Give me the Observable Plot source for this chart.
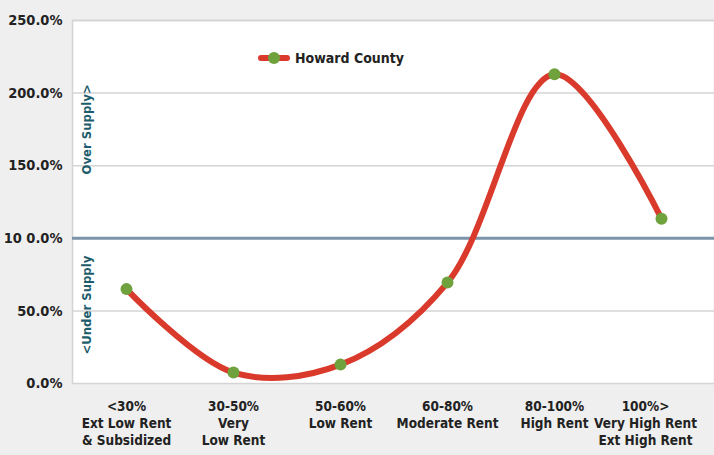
<!DOCTYPE html>
<html><head><meta charset="utf-8">
<script src="https://cdn.jsdelivr.net/npm/d3@7"></script>
<script src="https://cdn.jsdelivr.net/npm/@observablehq/plot@0.6"></script>
<style>
body{margin:0;background:#efefef;}
#wrap{position:relative;width:714px;height:455px;background:#efefef;}
.legend{position:absolute;left:258px;top:50px;display:flex;align-items:center;font:bold 14px "DejaVu Sans Condensed",sans-serif;color:#222;}
.legend svg{margin-right:5px;}
</style>
</head><body>
<div id="wrap"></div>
<script>
const categories = ["<30%\nExt Low Rent\n& Subsidized", "30-50%\nVery\nLow Rent", "50-60%\nLow Rent", "60-80%\nModerate Rent", "80-100%\nHigh Rent", "100%>\nVery High Rent\nExt High Rent"];
const values = [65, 7.5, 13, 69.5, 213, 113.5];
const yTicks = [0, 50, 100, 150, 200, 250];
const yTickLabels = ["0.0%", "50.0%", "10 0.0%", "150.0%", "200.0%", "250.0%"];
const seriesName = "Howard County";
const baseline = 100;
const bandNotes = [{label: "Over Supply>", y: 175}, {label: "<Under Supply", y: 54}];

const data = categories.map((c, i) => ({cat: c, v: values[i]}));
const font = '"DejaVu Sans Condensed",sans-serif';
const lineColor = "#d93a2b", dotColor = "#6fa23d";

const chart = Plot.plot({
  width: 714, height: 455,
  marginLeft: 72, marginRight: 0, marginTop: 20, marginBottom: 72,
  style: {background: "transparent", fontFamily: font, fontSize: "14px", fontWeight: "bold", color: "#222"},
  x: {type: "point", domain: categories, padding: 0.5, label: null},
  y: {domain: [0, 250], label: null},
  marks: [
    Plot.frame({fill: "white", stroke: "#d4d4d4", strokeWidth: 1.5}),
    Plot.ruleY(yTicks.filter(t => t !== baseline && t !== 0), {stroke: "#d4d4d4", strokeWidth: 1.5}),
    Plot.ruleY([baseline], {stroke: "#7b93a9", strokeWidth: 3}),
    Plot.axisY({ticks: yTicks, tickSize: 0, tickPadding: 10, tickFormat: d => yTickLabels[yTicks.indexOf(d)], fontSize: 14.5, fill: "#222"}),
    Plot.axisX(categories.slice(0, -1), {tickSize: 0, tickPadding: 16, lineHeight: 1.25, fontSize: 13.5, fill: "#222"}),
    Plot.axisX(categories.slice(-1), {tickSize: 0, tickPadding: 16, lineHeight: 1.25, fontSize: 13.5, fill: "#222", dx: -16}),
    Plot.text(bandNotes, {y: "y", text: "label", frameAnchor: "left", dx: 14, rotate: -90, textAnchor: "middle", fill: "#1d5c6c", fontSize: 13, fontWeight: "bold"}),
    Plot.line(data, {x: "cat", y: "v", stroke: lineColor, strokeWidth: 6, curve: "catmull-rom"}),
    Plot.dot(data, {x: "cat", y: "v", r: 6, fill: dotColor, stroke: "none"})
  ]
});
const wrap = document.getElementById("wrap");
wrap.appendChild(chart);
const leg = document.createElement("div");
leg.className = "legend";
leg.innerHTML = `<svg width="32" height="12"><line x1="3" x2="29" y1="6" y2="6" stroke="${lineColor}" stroke-width="6" stroke-linecap="round"/><circle cx="16" cy="6" r="6" fill="${dotColor}"/></svg><span></span>`;
leg.querySelector("span").textContent = seriesName;
wrap.appendChild(leg);
</script>
</body></html>
